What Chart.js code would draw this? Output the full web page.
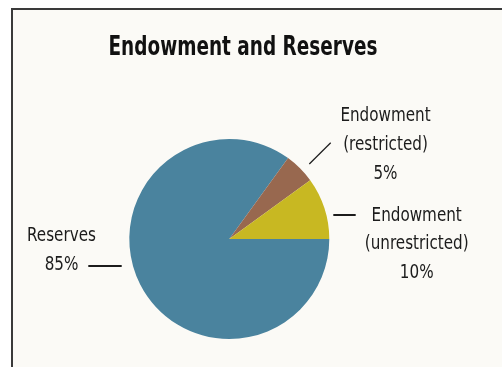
<!DOCTYPE html>
<html>
<head>
<meta charset="utf-8">
<script src="https://cdn.jsdelivr.net/npm/chart.js@4/dist/chart.umd.min.js"></script>
<style>
    html, body { margin: 0; padding: 0; background: #ffffff; }
    #panel {
        position: absolute;
        left: 11px;
        top: 8px;
        width: 489px;
        height: 357px;
        border-left: 2px solid #3a3a3a;
        border-top: 2px solid #3a3a3a;
        background: #fbfaf6;
    }
    #chartBox { position: absolute; left: 0; top: 0; width: 489px; height: 357px; }
</style>
</head>
<body>
<div id="panel">
    <div id="chartBox"><canvas id="fundsChart"></canvas></div>
</div>
<script>
// Share of funds by type (%)
const categories = ['Reserves', 'Endowment (restricted)', 'Endowment (unrestricted)'];
const shares = [85, 5, 10];
const sliceColors = ['#4a839e', '#98684f', '#c8b822'];

const chartTitle = 'Endowment and Reserves';
const labelFont = "'DejaVu Sans Condensed', 'DejaVu Sans', sans-serif";
const textColor = '#1c1c1c';

// Label placement around the pie, in pixels from its centre
const labelLayout = [
    { line: [-141, 27, -107.6, 27], lineWidth: 2, textX: -167.8, baselines: [1.7, 31] },
    { line: [80, -75, 101.4, -96.3], lineWidth: 1.2, textX: 156.2, baselines: [-118.3, -89, -60.3] },
    { line: [104, -24, 126.4, -24], lineWidth: 2, textX: 187.4, baselines: [-18.3, 10.3, 39.3] }
];

// Narrow text: squeeze horizontally around its centre point
function narrowText(ctx, txt, x, y, squeeze) {
    ctx.save();
    ctx.translate(x, y);
    ctx.scale(squeeze, 1);
    ctx.fillText(txt, 0, 0);
    ctx.restore();
}

// Title plus leader lines and name / percent text for each slice
const sliceLabels = {
    id: 'sliceLabels',
    afterDraw(chart) {
        const ctx = chart.ctx;
        const arcs = chart.getDatasetMeta(0).data;
        ctx.save();
        ctx.textAlign = 'center';
        ctx.textBaseline = 'alphabetic';

        ctx.fillStyle = '#111111';
        ctx.font = 'bold 27px ' + labelFont;
        narrowText(ctx, chartTitle, 230, 45, 0.76);

        ctx.fillStyle = textColor;
        ctx.strokeStyle = textColor;
        ctx.font = '19.5px ' + labelFont;
        arcs.forEach((arc, i) => {
            const cx = arc.x, cy = arc.y;
            const place = labelLayout[i];
            const l = place.line;
            ctx.lineWidth = place.lineWidth;
            ctx.beginPath();
            ctx.moveTo(cx + l[0], cy + l[1]);
            ctx.lineTo(cx + l[2], cy + l[3]);
            ctx.stroke();

            const name = categories[i].replace(' (', '\n(').split('\n');
            const lines = name.concat([shares[i] + '%']);
            lines.forEach((txt, k) => {
                narrowText(ctx, txt, cx + place.textX, cy + place.baselines[k], 0.865);
            });
        });
        ctx.restore();
    }
};

new Chart(document.getElementById('fundsChart'), {
    type: 'pie',
    data: {
        labels: categories,
        datasets: [{
            data: shares,
            backgroundColor: sliceColors,
            borderWidth: 0
        }]
    },
    options: {
        responsive: true,
        maintainAspectRatio: false,
        animation: false,
        rotation: 90,
        layout: {
            padding: { left: 0, right: 56.4, top: 129, bottom: 28 }
        },
        plugins: {
            legend: { display: false },
            tooltip: { enabled: false },
            title: { display: false }
        }
    },
    plugins: [sliceLabels]
});
</script>
</body>
</html>
